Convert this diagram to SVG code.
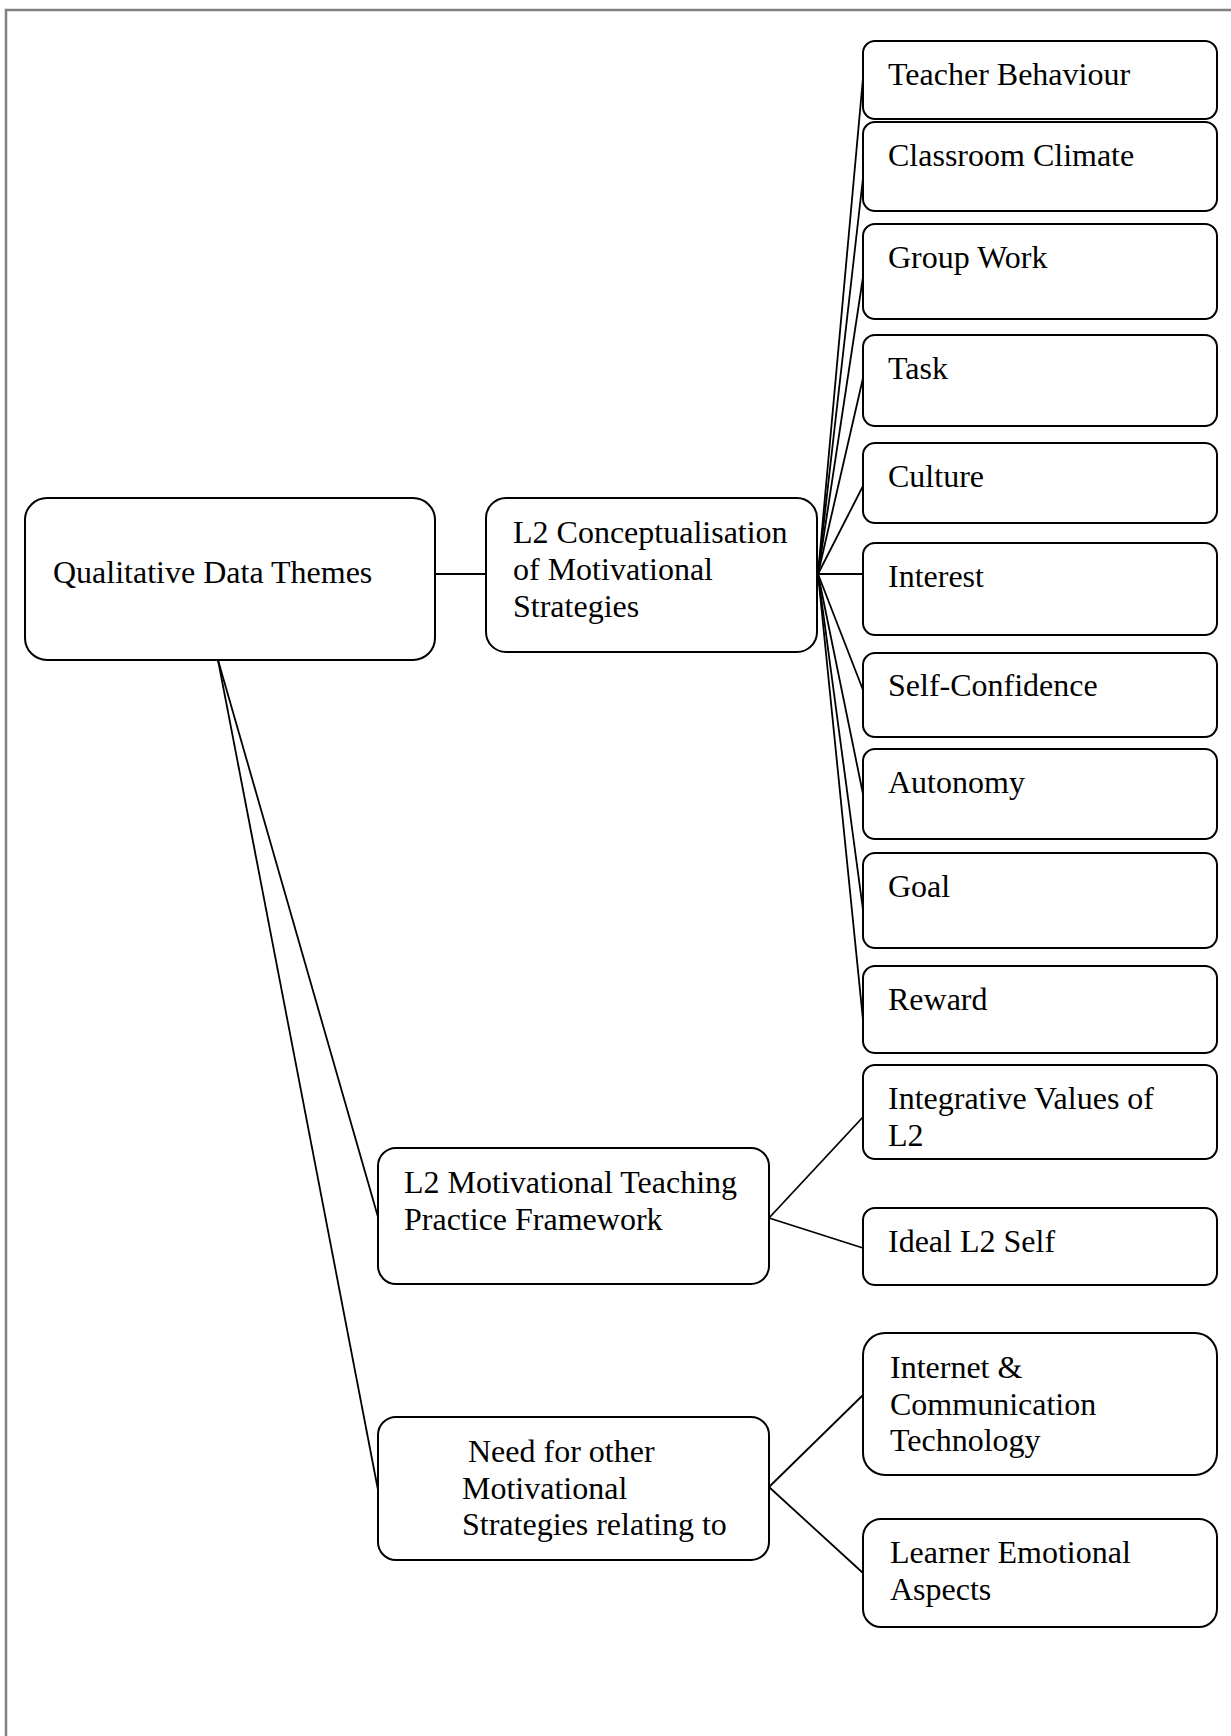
<svg xmlns="http://www.w3.org/2000/svg" width="1231" height="1736" viewBox="0 0 1231 1736">
<style>
.box{fill:#fff;stroke:#000;stroke-width:2}
.lbl{font-family:"Liberation Serif","Times New Roman",serif;font-size:32px;fill:#000}
.con line{stroke:#000;stroke-width:1.8}
.frame{stroke:#808080;stroke-width:2.5;fill:none}
</style>
<rect width="1231" height="1736" fill="#fff"/>
<path class="frame" d="M6,1736 V10 H1231"/>
<g id="connectors" class="con">
<line x1="435" y1="574" x2="486" y2="574"/>
<line x1="818" y1="574" x2="863" y2="78"/>
<line x1="818" y1="574" x2="863" y2="178"/>
<line x1="818" y1="574" x2="863" y2="277"/>
<line x1="818" y1="574" x2="863" y2="378"/>
<line x1="818" y1="574" x2="863" y2="486"/>
<line x1="818" y1="574" x2="863" y2="574"/>
<line x1="818" y1="574" x2="863" y2="690"/>
<line x1="818" y1="574" x2="863" y2="794"/>
<line x1="818" y1="574" x2="863" y2="910"/>
<line x1="818" y1="574" x2="863" y2="1020"/>
<line x1="218" y1="660" x2="378" y2="1217"/>
<line x1="218" y1="660" x2="378" y2="1490"/>
<line x1="769" y1="1218" x2="863" y2="1117"/>
<line x1="769" y1="1218" x2="863" y2="1248"/>
<line x1="769" y1="1487" x2="863" y2="1395"/>
<line x1="769" y1="1487" x2="863" y2="1573"/>
</g>
<g id="n-qdt"><rect class="box" x="25" y="498" width="410" height="162" rx="22"/><text class="lbl" x="53" y="583">Qualitative Data Themes</text></g>
<g id="n-l2c"><rect class="box" x="486" y="498" width="331" height="154" rx="20"/><text class="lbl" x="513" y="543">L2 Conceptualisation</text><text class="lbl" x="513" y="580">of Motivational</text><text class="lbl" x="513" y="617">Strategies</text></g>
<g id="n-l2m"><rect class="box" x="378" y="1148" width="391" height="136" rx="18"/><text class="lbl" x="404" y="1193">L2 Motivational Teaching</text><text class="lbl" x="404" y="1230">Practice Framework</text></g>
<g id="n-need"><rect class="box" x="378" y="1417" width="391" height="143" rx="18"/><text class="lbl" x="468" y="1462">Need for other</text><text class="lbl" x="462" y="1499">Motivational</text><text class="lbl" x="462" y="1535">Strategies relating to</text></g>
<g id="n-teacher"><rect class="box" x="863" y="41" width="354" height="78" rx="12"/><text class="lbl" x="888" y="85">Teacher Behaviour</text></g>
<g id="n-classroom"><rect class="box" x="863" y="122" width="354" height="89" rx="12"/><text class="lbl" x="888" y="166">Classroom Climate</text></g>
<g id="n-group"><rect class="box" x="863" y="224" width="354" height="95" rx="12"/><text class="lbl" x="888" y="268">Group Work</text></g>
<g id="n-task"><rect class="box" x="863" y="335" width="354" height="91" rx="12"/><text class="lbl" x="888" y="379">Task</text></g>
<g id="n-culture"><rect class="box" x="863" y="443" width="354" height="80" rx="12"/><text class="lbl" x="888" y="487">Culture</text></g>
<g id="n-interest"><rect class="box" x="863" y="543" width="354" height="92" rx="12"/><text class="lbl" x="888" y="587">Interest</text></g>
<g id="n-self"><rect class="box" x="863" y="653" width="354" height="84" rx="12"/><text class="lbl" x="888" y="696">Self-Confidence</text></g>
<g id="n-autonomy"><rect class="box" x="863" y="749" width="354" height="90" rx="12"/><text class="lbl" x="888" y="793">Autonomy</text></g>
<g id="n-goal"><rect class="box" x="863" y="853" width="354" height="95" rx="12"/><text class="lbl" x="888" y="897">Goal</text></g>
<g id="n-reward"><rect class="box" x="863" y="966" width="354" height="87" rx="12"/><text class="lbl" x="888" y="1010">Reward</text></g>
<g id="n-integrative"><rect class="box" x="863" y="1065" width="354" height="94" rx="12"/><text class="lbl" x="888" y="1109">Integrative Values of</text><text class="lbl" x="888" y="1146">L2</text></g>
<g id="n-ideal"><rect class="box" x="863" y="1208" width="354" height="77" rx="12"/><text class="lbl" x="888" y="1252">Ideal L2 Self</text></g>
<g id="n-internet"><rect class="box" x="863" y="1333" width="354" height="142" rx="22"/><text class="lbl" x="890" y="1378">Internet &amp;</text><text class="lbl" x="890" y="1415">Communication</text><text class="lbl" x="890" y="1451">Technology</text></g>
<g id="n-learner"><rect class="box" x="863" y="1519" width="354" height="108" rx="18"/><text class="lbl" x="890" y="1563">Learner Emotional</text><text class="lbl" x="890" y="1600">Aspects</text></g>
</svg>
